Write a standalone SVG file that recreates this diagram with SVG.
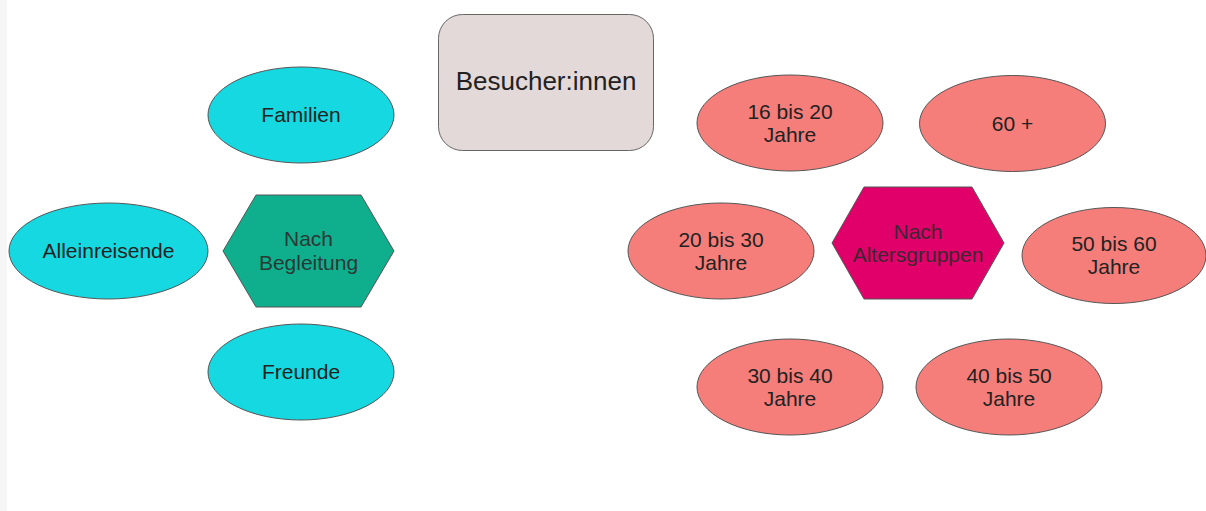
<svg xmlns="http://www.w3.org/2000/svg" width="1206" height="511" viewBox="0 0 1206 511">
  <style>
    .lbl { font-family: "Liberation Sans", Arial, sans-serif; font-size: 21px; fill: #222; text-anchor: middle; }
    .hexlbl { fill: #2c2c2c; fill-opacity: 0.92; }
    .cyan { fill: #15d8e0; stroke: #555; stroke-width: 1; }
    .salmon { fill: #f57e7b; stroke: #555; stroke-width: 1; }
    .teal { fill: #0fae8c; stroke: #555; stroke-width: 1; }
    .magenta { fill: #e1006a; stroke: #555; stroke-width: 1; }
    .box { fill: #e3d9d9; stroke: #666; stroke-width: 1; }
  </style>
  <rect x="0" y="0" width="1206" height="511" fill="#ffffff"/>
  <rect x="0" y="0" width="7" height="511" fill="#f6f6f6"/>

  <!-- no connectors are drawn between the shapes -->
  <g id="connectors"/>

  <g id="besucher">
    <rect class="box" x="438.5" y="14.5" width="215" height="136" rx="24"/>
    <text class="lbl" x="546" y="90" style="font-size:26px">Besucher:innen</text>
  </g>

  <!-- grouping by company -->
  <g id="familien">
    <ellipse class="cyan" cx="301" cy="115" rx="93" ry="48"/>
    <text class="lbl" x="301" y="122">Familien</text>
  </g>
  <g id="alleinreisende">
    <ellipse class="cyan" cx="108.5" cy="251" rx="99.5" ry="48"/>
    <text class="lbl" x="108.5" y="258">Alleinreisende</text>
  </g>
  <g id="nach-begleitung">
    <polygon class="teal" points="256,195 361,195 394,251 361,307 256,307 223,251"/>
    <text class="lbl hexlbl" x="308.5" y="246">Nach</text>
    <text class="lbl hexlbl" x="308.5" y="270">Begleitung</text>
  </g>
  <g id="freunde">
    <ellipse class="cyan" cx="301" cy="372" rx="93" ry="48"/>
    <text class="lbl" x="301" y="379">Freunde</text>
  </g>

  <!-- grouping by age -->
  <g id="alter-16-20">
    <ellipse class="salmon" cx="790" cy="123" rx="93" ry="48"/>
    <text class="lbl" x="790" y="119">16 bis 20</text>
    <text class="lbl" x="790" y="142">Jahre</text>
  </g>
  <g id="alter-60">
    <ellipse class="salmon" cx="1012.5" cy="123.5" rx="93" ry="48"/>
    <text class="lbl" x="1012.5" y="131">60 +</text>
  </g>
  <g id="alter-20-30">
    <ellipse class="salmon" cx="721" cy="251" rx="93" ry="48"/>
    <text class="lbl" x="721" y="247">20 bis 30</text>
    <text class="lbl" x="721" y="270">Jahre</text>
  </g>
  <g id="nach-altersgruppen">
    <polygon class="magenta" points="864,187 972,187 1004,243 972,299 864,299 832,243"/>
    <text class="lbl hexlbl" x="918" y="239">Nach</text>
    <text class="lbl hexlbl" x="918" y="262">Altersgruppen</text>
  </g>
  <g id="alter-50-60">
    <ellipse class="salmon" cx="1114" cy="255.5" rx="92" ry="48"/>
    <text class="lbl" x="1114" y="251">50 bis 60</text>
    <text class="lbl" x="1114" y="274">Jahre</text>
  </g>
  <g id="alter-30-40">
    <ellipse class="salmon" cx="790" cy="387" rx="93" ry="48"/>
    <text class="lbl" x="790" y="383">30 bis 40</text>
    <text class="lbl" x="790" y="406">Jahre</text>
  </g>
  <g id="alter-40-50">
    <ellipse class="salmon" cx="1009" cy="387" rx="93" ry="48"/>
    <text class="lbl" x="1009" y="383">40 bis 50</text>
    <text class="lbl" x="1009" y="406">Jahre</text>
  </g>
</svg>
